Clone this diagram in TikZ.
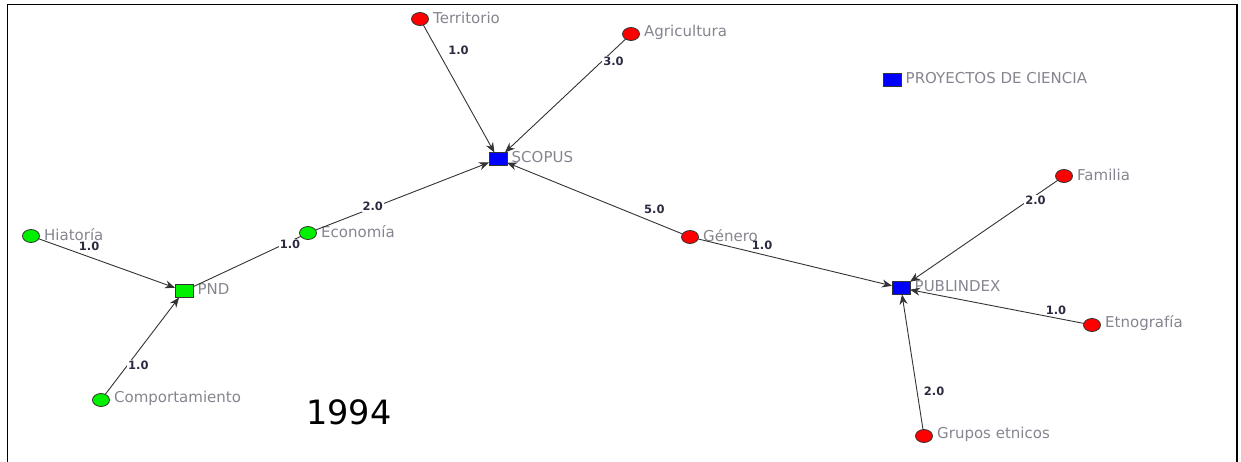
\documentclass[tikz,border=0pt]{standalone}
\usepackage{fontspec}
\usetikzlibrary{arrows.meta,shapes.geometric}
\newfontfamily\dvs{DejaVu Sans}
\definecolor{lblgray}{HTML}{858590}
\definecolor{numcol}{HTML}{2B2B40}
\definecolor{edgecol}{HTML}{333333}
\definecolor{ndred}{HTML}{FF0000}
\definecolor{ndgreen}{HTML}{00F000}
\definecolor{ndblue}{HTML}{0000FF}
\tikzset{
  cnode/.style={ellipse,draw=black!80,line width=0.8pt,minimum width=17pt,minimum height=13pt,inner sep=0pt,outer sep=0pt},
  rednode/.style={cnode,fill=ndred},
  greennode/.style={cnode,fill=ndgreen},
  sqnode/.style={rectangle,draw=black!80,line width=0.8pt,minimum width=18pt,minimum height=13pt,inner sep=0pt,outer sep=0pt},
  bluesq/.style={sqnode,fill=ndblue},
  greensq/.style={sqnode,fill=ndgreen},
  nlab/.style={font=\dvs\fontsize{15}{17}\selectfont,text=lblgray,inner sep=2pt,label distance=2.5pt,yshift=1.5pt},
  edge/.style={draw=edgecol,line width=0.9pt},
  arr/.style={edge,-{Stealth[length=10pt,width=8pt]}},
  wlab/.style={font=\dvs\bfseries\fontsize{11.5}{13}\selectfont,text=numcol,inner sep=1pt},
  wlabw/.style={wlab,fill=white}
}
\begin{document}
\begin{tikzpicture}[x=1pt,y=-1pt]
\useasboundingbox (0,0) rectangle (1241,461);
% frame
\draw[line width=1.8pt] (7.5,470) -- (7.5,4.5) -- (1237,4.5) -- (1237,470);

% nodes
\node[rednode,label={[nlab]right:Territorio}] (terr) at (420,19) {};
\node[rednode,label={[nlab]right:Agricultura}] (agri) at (631,34) {};
\node[bluesq,label={[nlab]right:SCOPUS}] (scopus) at (498,159) {};
\node[bluesq,label={[nlab]right:PROYECTOS DE CIENCIA}] (proy) at (892,80) {};
\node[rednode,label={[nlab]right:Familia}] (fam) at (1064,176) {};
\node[greennode,label={[nlab]right:Economía}] (eco) at (308,233) {};
\node[greennode,label={[nlab]right:Hiatoría}] (hist) at (31,236) {};
\node[rednode,label={[nlab]right:Género}] (gen) at (690,237) {};
\node[greensq,label={[nlab]right:PND}] (pnd) at (184,291) {};
\node[bluesq,label={[nlab]right:PUBLINDEX}] (pub) at (901,288) {};
\node[rednode,label={[nlab]right:Etnografía}] (etno) at (1092,325) {};
\node[greennode,label={[nlab]right:Comportamiento}] (comp) at (101,400) {};
\node[rednode,label={[nlab]right:Grupos etnicos}] (grup) at (924,436) {};
\node[font=\dvs\fontsize{33.5}{36}\selectfont,text=black] (year) at (349,412) {1994};

% edges
\draw[arr] (terr) -- node[wlab,pos=0.2,xshift=21pt] {1.0} (scopus);
\draw[arr] (agri) -- node[wlabw,pos=0.2,xshift=12pt] {3.0} (scopus);
\draw[arr] (eco) -- node[wlabw,pos=0.33,yshift=1pt] {2.0} (scopus);
\draw[arr] (gen) -- node[wlab,pos=0.16,yshift=13pt] {5.0} (scopus);
\draw[arr] (gen) -- node[wlab,pos=0.33,yshift=9pt] {1.0} (pub);
\draw[arr] (hist) -- node[wlab,pos=0.37,yshift=11pt] {1.0} (pnd);
\draw[edge] (eco) -- node[wlabw,pos=0.1,yshift=-3pt] {1.0} (pnd);
\draw[arr] (comp) -- node[wlabw,pos=0.3,xshift=11pt] {1.0} (pnd);
\draw[arr] (fam) -- node[wlabw,pos=0.15,yshift=-5pt] {2.0} (pub);
\draw[arr] (etno) -- node[wlab,pos=0.16,yshift=8pt] {1.0} (pub);
\draw[arr] (grup) -- node[wlab,pos=0.28,xshift=17pt] {2.0} (pub);
\end{tikzpicture}
\end{document}
